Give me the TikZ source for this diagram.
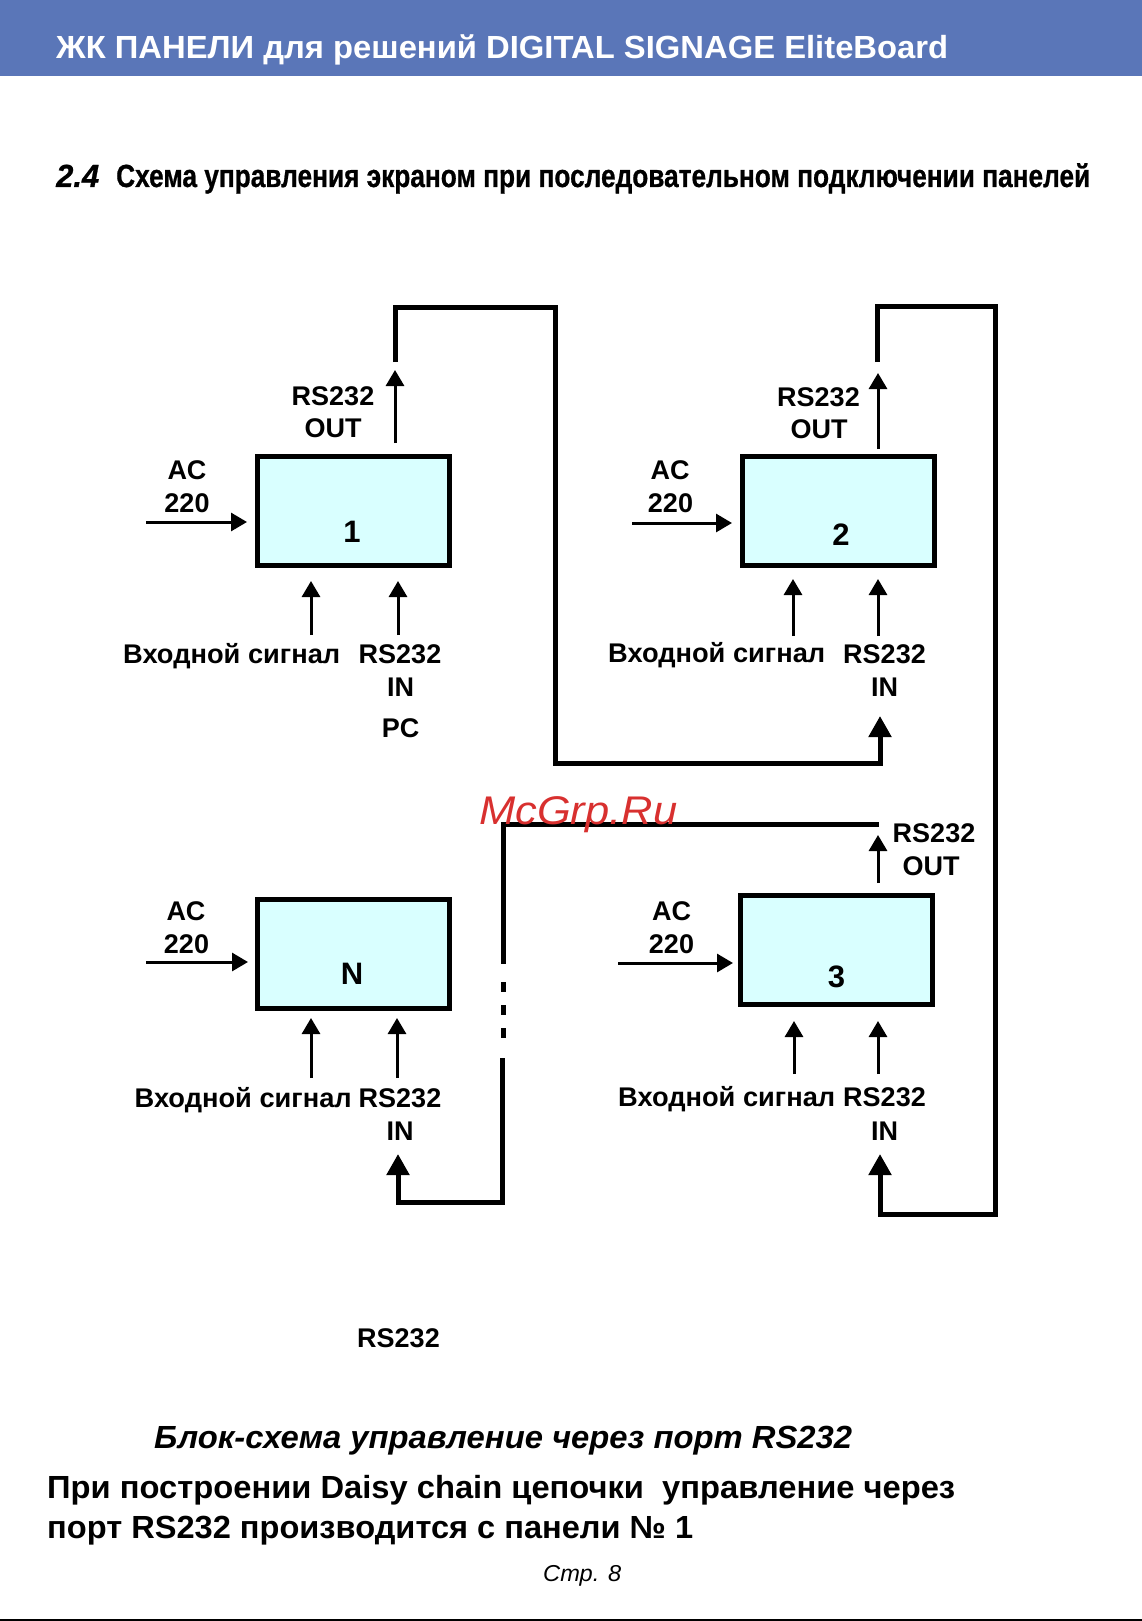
\documentclass[tikz,border=0pt]{standalone}
\usepackage{fontspec}
\usepackage{graphicx}
\setmainfont{Liberation Sans}
\newfontfamily\heavy[FakeBold=0.8]{Liberation Sans Bold}
\newfontfamily\heavyit[FakeBold=0.8]{Liberation Sans Bold Italic}
\usetikzlibrary{arrows.meta}
\definecolor{hdr}{HTML}{5A76B8}
\definecolor{panel}{HTML}{D9FFFF}
\definecolor{wm}{HTML}{D8302F}
\newcommand{\fitw}[2]{\resizebox{#1pt}{\height}{#2}}
\tikzset{
  panelbox/.style={draw=black,line width=5pt,fill=panel,minimum width=192pt,minimum height=109pt,inner sep=0pt},
  boxnum/.style={anchor=base,inner sep=0pt,font=\bfseries\fontsize{31}{31}\selectfont},
  lab/.style={anchor=base,inner sep=0pt,font=\bfseries\fontsize{27}{27}\selectfont},
  labw/.style={anchor=base west,inner sep=0pt,font=\bfseries\fontsize{27}{27}\selectfont},
  txt/.style={anchor=base west,inner sep=0pt,font=\bfseries\fontsize{32}{32}\selectfont},
  sig/.style={line width=3pt,-{Triangle[length=16pt,width=18pt]}},
  bus/.style={line width=5pt,line join=miter},
  busarr/.style={bus,-{Triangle[length=21pt,width=22pt]}},
  gap/.style={line width=5pt}
}
\begin{document}
\begin{tikzpicture}[x=1pt,y=-1pt]
\useasboundingbox (0,0) rectangle (1142,1621);
\fill[hdr] (0,0) rectangle (1142,76.5);
\fill[black] (0,1619) rectangle (1142,1621);

\node[txt,text=white] (head) at (56,59) {\fitw{892}{ЖК ПАНЕЛИ для решений DIGITAL SIGNAGE EliteBoard}};
\node[txt] (title0) at (56,187) {\fitw{43}{\heavyit 2.4}};
\node[txt] (title) at (116,187) {\fitw{974}{\heavy Схема управления экраном при последовательном подключении панелей}};

% panels
\node[panelbox] (p1) at (353.5,511) {};
\node[panelbox] (p2) at (838,511) {};
\node[panelbox] (pN) at (353.5,953.5) {};
\node[panelbox] (p3) at (836.5,950) {};
\node[boxnum] (n1) at (352,542) {1};
\node[boxnum] (n2) at (841,545) {2};
\node[boxnum] (nN) at (352,984) {N};
\node[boxnum] (n3) at (836.5,987) {3};

% free ends
\coordinate (a1s) at (146,522);  \coordinate (a1e) at (247,522);
\coordinate (a2s) at (632,523);  \coordinate (a2e) at (732,523);
\coordinate (aNs) at (146,962);  \coordinate (aNe) at (248,962);
\coordinate (a3s) at (618,963);  \coordinate (a3e) at (733,963);
\coordinate (o1s) at (395,443);  \coordinate (o1e) at (395,370);
\coordinate (o2s) at (878,449);  \coordinate (o2e) at (878,373);
\coordinate (o3s) at (878,883);  \coordinate (o3e) at (878,835);
\coordinate (i1as) at (311,635); \coordinate (i1ae) at (311,581);
\coordinate (i1bs) at (398,635); \coordinate (i1be) at (398,581);
\coordinate (i2as) at (793,636); \coordinate (i2ae) at (793,579);
\coordinate (i2bs) at (878,636); \coordinate (i2be) at (878,579);
\coordinate (iNas) at (311,1078);\coordinate (iNae) at (311,1018);
\coordinate (iNbs) at (397,1078);\coordinate (iNbe) at (397,1018);
\coordinate (i3as) at (794,1074);\coordinate (i3ae) at (794,1021);
\coordinate (i3bs) at (878,1074);\coordinate (i3be) at (878,1021);

\foreach \s/\e in {a1s/a1e,a2s/a2e,aNs/aNe,a3s/a3e,o1s/o1e,o2s/o2e,o3s/o3e,
  i1as/i1ae,i1bs/i1be,i2as/i2ae,i2bs/i2be,iNas/iNae,iNbs/iNbe,i3as/i3ae,i3bs/i3be}
  \draw[sig] (\s) -- (\e);

% bus lines
\coordinate (b1a) at (395,362); \coordinate (b1b) at (395,307); \coordinate (b1c) at (555,307);
\coordinate (b1d) at (555,763); \coordinate (b1e) at (880,763); \coordinate (b1f) at (880,716);
\draw[busarr] (b1a) -- (b1b) -- (b1c) -- (b1d) -- (b1e) -- (b1f);

\coordinate (b2a) at (877,362); \coordinate (b2b) at (877,306); \coordinate (b2c) at (995,306);
\coordinate (b2d) at (995,1214); \coordinate (b2e) at (880,1214); \coordinate (b2f) at (880,1154);
\draw[busarr] (b2a) -- (b2b) -- (b2c) -- (b2d) -- (b2e) -- (b2f);

\coordinate (b3a) at (878.5,824); \coordinate (b3b) at (503,824); \coordinate (b3c) at (503,964);
\draw[bus] (b3a) -- (b3b) -- (b3c);
\coordinate (d1a) at (503,982);  \coordinate (d1b) at (503,992);
\coordinate (d2a) at (503,1005); \coordinate (d2b) at (503,1015);
\coordinate (d3a) at (503,1028); \coordinate (d3b) at (503,1038);
\draw[gap] (d1a) -- (d1b);
\draw[gap] (d2a) -- (d2b);
\draw[gap] (d3a) -- (d3b);
\coordinate (b4a) at (502,1058); \coordinate (b4b) at (502,1202); \coordinate (b4c) at (398,1202); \coordinate (b4d) at (398,1154);
\draw[busarr] (b4a) -- (b4b) -- (b4c) -- (b4d);

% labels panel 1
\node[lab] (l1o1) at (333,405) {RS232};
\node[lab] (l1o2) at (333,437) {OUT};
\node[lab] (l1a1) at (187,479) {AC};
\node[lab] (l1a2) at (187,512) {220};
\node[labw] (l1s) at (123,663) {\fitw{217}{Входной сигнал}};
\node[lab] (l1r1) at (400,663) {RS232};
\node[lab] (l1r2) at (400.5,696) {IN};
\node[lab] (l1pc) at (400.5,737) {PC};
% labels panel 2
\node[lab] (l2o1) at (818.5,406) {RS232};
\node[lab] (l2o2) at (819,438) {OUT};
\node[lab] (l2a1) at (670,479) {AC};
\node[lab] (l2a2) at (670.5,512) {220};
\node[labw] (l2s) at (608,662) {\fitw{217}{Входной сигнал}};
\node[lab] (l2r1) at (884.5,663) {RS232};
\node[lab] (l2r2) at (884.5,696) {IN};
% labels panel N
\node[lab] (lNa1) at (186,920) {AC};
\node[lab] (lNa2) at (186.5,953) {220};
\node[labw] (lNs) at (134.5,1107) {\fitw{217}{Входной сигнал}};
\node[lab] (lNr1) at (400,1107) {RS232};
\node[lab] (lNr2) at (400,1140) {IN};
% labels panel 3
\node[lab] (l3o1) at (934,842) {RS232};
\node[lab] (l3o2) at (931,875) {OUT};
\node[lab] (l3a1) at (671.5,920) {AC};
\node[lab] (l3a2) at (671.5,953) {220};
\node[labw] (l3s) at (618,1106) {\fitw{217}{Входной сигнал}};
\node[lab] (l3r1) at (884.5,1106) {RS232};
\node[lab] (l3r2) at (884.5,1140) {IN};

\node[lab] (lrs) at (398.5,1347) {RS232};

\node[txt] (cap) at (154,1448) {\fitw{698}{\itshape Блок-схема управление через порт RS232}};
\node[txt] (line1) at (47,1498) {\fitw{908}{При построении Daisy chain цепочки\ \ управление через}};
\node[txt] (line2) at (47,1538) {\fitw{646}{порт RS232 производится с панели № 1}};
\node[anchor=base west,inner sep=0pt,font=\itshape\fontsize{23}{23}\selectfont] (page) at (543,1581) {\fitw{78}{Стр. 8}};

\node[anchor=base west,inner sep=0pt,text=wm,font=\itshape\fontsize{40}{40}\selectfont] (mark) at (479,824) {\fitw{198}{McGrp.Ru}};
\end{tikzpicture}
\end{document}
